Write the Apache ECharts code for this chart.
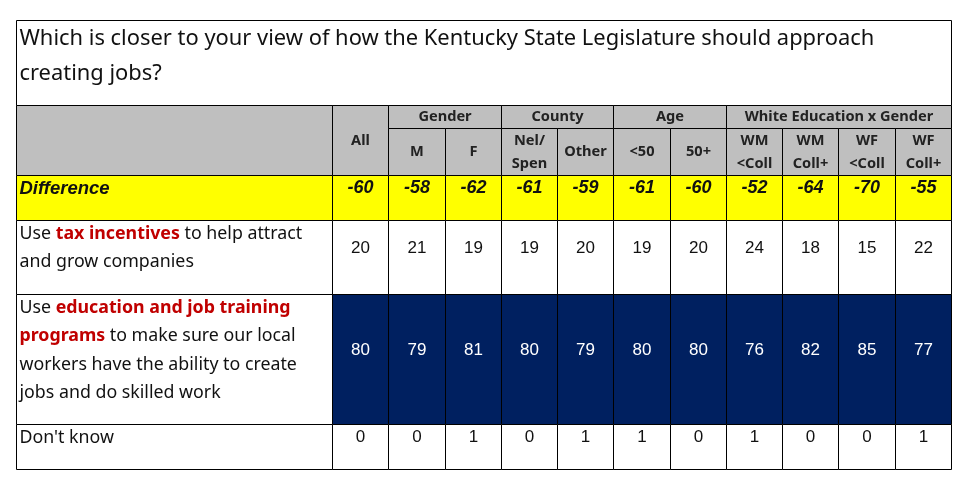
<!DOCTYPE html>
<html lang="en">

<head>
    <meta charset="UTF-8">
    <title>Kentucky jobs table</title>
    <script src="https://cdn.jsdelivr.net/npm/echarts@6.0.0/dist/echarts.min.js"></script>
    <style>
        html, body { margin: 0; padding: 0; background: #fff; }
    </style>
</head>

<body>
    <div id="container" style="width: 973px; height: 483px"></div>
    <script>
        // ---- data ----
        var title = 'Which is closer to your view of how the Kentucky State Legislature should approach\ncreating jobs?';
        var groupNames = ['Gender', 'County', 'Age', 'White Education x Gender'];
        var groupSpans = [2, 2, 2, 4];
        var columns = ['All', 'M', 'F', 'Nel/\nSpen', 'Other', '<50', '50+', 'WM\n<Coll', 'WM\nColl+', 'WF\n<Coll', 'WF\nColl+'];
        var rowLabels = [
            '{d|Difference}',
            'Use {r|tax incentives} to help attract\nand grow companies',
            'Use {r|education and job training}\n{r|programs} to make sure our local\nworkers have the ability to create\njobs and do skilled work',
            "Don't know"
        ];
        var difference = [-60, -58, -62, -61, -59, -61, -60, -52, -64, -70, -55];
        var taxIncentives = [20, 21, 19, 19, 20, 19, 20, 24, 18, 15, 22];
        var jobTraining = [80, 79, 81, 80, 79, 80, 80, 76, 82, 85, 77];
        var dontKnow = [0, 0, 1, 0, 1, 1, 0, 1, 0, 0, 1];

        // ---- layout (table units = px inside the grid) ----
        var labelW = 316;
        var dataW = 619 / 11;
        var rowH = [85, 23, 47, 45, 74, 130, 45];   // title, group, sub, diff, tax, edu, dk
        var bodyTextOffset = [13, 27.5, 56, 13];
        var bodyFill = ['#FFFF00', '#FFFFFF', '#002060', '#FFFFFF'];
        var bodyColor = ['#111', '#111', '#FFFFFF', '#111'];

        var colX = [0, labelW];
        for (var i = 0; i < columns.length; i++) colX.push(labelW + dataW * (i + 1));
        var rowY = [0];
        for (var j = 0; j < rowH.length; j++) rowY.push(rowY[j] + rowH[j]);

        var labelFont = '"Noto Sans", "Open Sans", sans-serif';
        var numFont = '"Liberation Sans", Arial, sans-serif';

        var cells = [];
        function addCell(c0, c1, r0, r1, fill, text, style) {
            cells.push({ value: [colX[c0], rowY[r0], colX[c1], rowY[r1]], fill: fill, text: text, ts: style });
        }

        // title
        addCell(0, columns.length + 1, 0, 1, '#FFFFFF', title, {
            align: 'left', pad: 3, offset: 35.5, fontFamily: labelFont, fontSize: 21.9, lineHeight: 35, color: '#111'
        });
        // header
        var gray = '#BFBFBF';
        var headStyle = { align: 'center', fontFamily: labelFont, fontWeight: 'bold', fontSize: 14.6, lineHeight: 23, color: '#222' };
        addCell(0, 1, 1, 3, gray, '', headStyle);
        addCell(1, 2, 1, 3, gray, columns[0], headStyle);
        var c = 2;
        groupNames.forEach(function (g, k) {
            addCell(c, c + groupSpans[k], 1, 2, gray, g, headStyle);
            c += groupSpans[k];
        });
        for (var k = 1; k < columns.length; k++) {
            addCell(k + 1, k + 2, 2, 3, gray, columns[k], headStyle);
        }
        // body rows
        var bodyValues = [difference, taxIncentives, jobTraining, dontKnow];
        bodyValues.forEach(function (vals, r) {
            var rr = r + 3;
            var off = bodyTextOffset[r];
            addCell(0, 1, rr, rr + 1, r === 2 ? '#FFFFFF' : bodyFill[r], rowLabels[r], {
                align: 'left', pad: 3, offset: off, fontFamily: labelFont, fontSize: 17.8, lineHeight: 28.5, color: '#111',
                rich: {
                    r: { fill: '#C00000', fontWeight: 'bold', fontFamily: labelFont, fontSize: 17.8, lineHeight: 28.5 },
                    d: { fill: '#111', fontWeight: 'bold', fontStyle: 'italic', fontFamily: numFont, fontSize: 18.5, lineHeight: 28.5 }
                }
            });
            vals.forEach(function (v, ci) {
                addCell(ci + 1, ci + 2, rr, rr + 1, bodyFill[r], String(v), {
                    align: 'center', offset: off, fontFamily: numFont, fontSize: r === 0 ? 18 : 17,
                    fontWeight: r === 0 ? 'bold' : 'normal', fontStyle: r === 0 ? 'italic' : 'normal',
                    color: bodyColor[r], lineHeight: 20
                });
            });
        });

        var chart = echarts.init(document.getElementById('container'));
        chart.setOption({
            animation: false,
            grid: { left: 16, top: 20, width: colX[colX.length - 1], height: rowY[rowY.length - 1] },
            xAxis: { type: 'value', min: 0, max: colX[colX.length - 1], show: false },
            yAxis: { type: 'value', min: 0, max: rowY[rowY.length - 1], inverse: true, show: false },
            series: [{
                type: 'custom',
                coordinateSystem: 'cartesian2d',
                data: cells,
                renderItem: function (params, api) {
                    var cell = cells[params.dataIndex];
                    var p0 = api.coord([api.value(0), api.value(1)]);
                    var p1 = api.coord([api.value(2), api.value(3)]);
                    var x0 = Math.round(p0[0]) + 0.5, y0 = Math.round(p0[1]) + 0.5;
                    var x1 = Math.round(p1[0]) + 0.5, y1 = Math.round(p1[1]) + 0.5;
                    var ts = cell.ts;
                    var tx = ts.align === 'left' ? x0 + ts.pad : (x0 + x1) / 2;
                    var ty = ts.offset != null ? y0 + ts.offset : (y0 + y1) / 2;
                    return {
                        type: 'group',
                        children: [{
                            type: 'rect',
                            shape: { x: x0, y: y0, width: x1 - x0, height: y1 - y0 },
                            style: { fill: cell.fill, stroke: '#000', lineWidth: 1 }
                        }, {
                            type: 'text',
                            style: {
                                x: tx, y: ty, text: cell.text,
                                align: ts.align, verticalAlign: 'middle',
                                fontFamily: ts.fontFamily, fontSize: ts.fontSize,
                                fontWeight: ts.fontWeight || 'normal', fontStyle: ts.fontStyle || 'normal',
                                lineHeight: ts.lineHeight, fill: ts.color, rich: ts.rich
                            }
                        }]
                    };
                }
            }]
        });
    </script>
</body>

</html>
